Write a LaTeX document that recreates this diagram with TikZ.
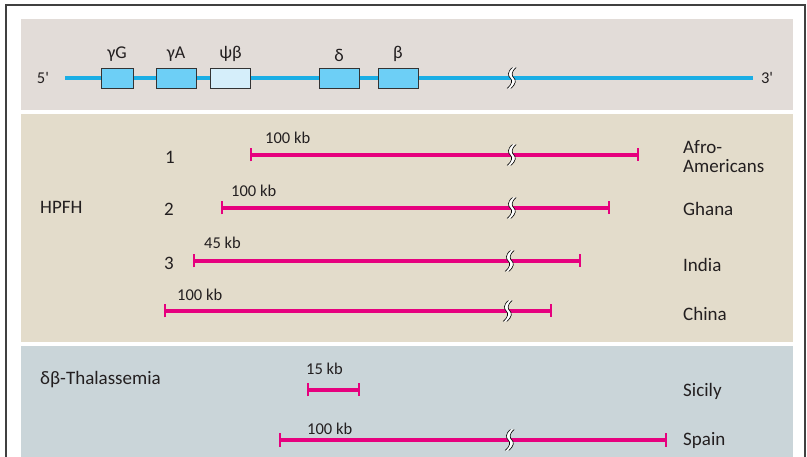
\documentclass[tikz,border=0pt]{standalone}
\usepackage{fontspec}
\setmainfont{Carlito}
\usetikzlibrary{arrows.meta}
\definecolor{genebg}{HTML}{E2DCD8}
\definecolor{hpfhbg}{HTML}{E3DCCB}
\definecolor{thalbg}{HTML}{CAD5D9}
\definecolor{dnablue}{HTML}{1AAEE5}
\definecolor{genefill}{HTML}{6DCFF6}
\definecolor{pseudofill}{HTML}{D5EEFA}
\definecolor{delpink}{HTML}{E6007E}
\definecolor{txt}{HTML}{231F20}
\tikzset{
  frame/.style={draw=black!75, line width=1.5pt},
  dna/.style={line width=4pt, draw=dnablue},
  gene/.style={draw=black!80, fill=genefill, line width=0.8pt, minimum height=20pt, inner sep=0, minimum width=40pt},
  genelabel/.style={font=\fontsize{18}{18}\selectfont, text=txt, inner sep=0, label distance=6pt},
  deletion/.style={line width=3.6pt, draw=delpink, {Bar[width=13pt,line width=1.6pt]}-{Bar[width=13pt,line width=1.6pt]}},
  small/.style={font=\fontsize{16.5}{18}\selectfont, text=txt, inner sep=0},
  big/.style={font=\fontsize{19}{19}\selectfont, text=txt, inner sep=0},
  kb/.style={small, anchor=west},
  place/.style={big, anchor=west, align=left},
  breakline/.style={draw=black, line width=0.6pt},
}
\newcommand{\dnabreak}[1]{%
  \begin{scope}[shift={(#1)}]
    \fill[white] (0.5,-10.5) .. controls (-5,-6) and (-4,-2) .. (-1.8,0) .. controls (0.5,2) and (0.5,6) .. (-5,10.5)
      -- (-1.3,10.5) .. controls (4.2,6) and (4.2,2) .. (1.9,0) .. controls (-0.3,-2) and (-1.3,-6) .. (4.2,-10.5) -- cycle;
    \draw[breakline] (0.5,-10.5) .. controls (-5,-6) and (-4,-2) .. (-1.8,0) .. controls (0.5,2) and (0.5,6) .. (-5,10.5);
    \draw[breakline] (4.2,-10.5) .. controls (-1.3,-6) and (-0.3,-2) .. (1.9,0) .. controls (4.2,2) and (4.2,6) .. (-1.3,10.5);
  \end{scope}}

\begin{document}
\begin{tikzpicture}[x=1pt, y=-1pt]
\useasboundingbox (0,0) rectangle (807,457);
\fill[white] (0,0) rectangle (807,457);
\draw[frame] (6,5) rectangle (805,480);
% panels
\fill[genebg] (21,19) rectangle (793,110);
\fill[hpfhbg] (21,114) rectangle (793,342);
\fill[thalbg] (21,346) rectangle (793,470);

% gene map
\node[small] (five) at (43,78) {5\textquotesingle};
\node[small] (three) at (767,78) {3\textquotesingle};
\coordinate (dnaL) at (65,78);
\coordinate (dnaR) at (753,78);
\draw[dna] (dnaL) -- (dnaR);
\node[gene, minimum width=32pt, label={[genelabel]above:γG}] (gG) at (117,78) {};
\node[gene, label={[genelabel]above:γA}] (gA) at (176,78) {};
\node[gene, fill=pseudofill, label={[genelabel]above:ψβ}] (psib) at (230.5,78) {};
\node[gene, label={[genelabel]above:δ}] (delta) at (339,78) {};
\node[gene, label={[genelabel]above:β}] (beta) at (398,78) {};
\dnabreak{512,78}

% HPFH
\node[big, anchor=west] (hpfh) at (40,207) {HPFH};
\node[big] (n1) at (170,157) {1};
\node[big] (n2) at (169,209) {2};
\node[big] (n3) at (169,263) {3};

\coordinate (a1) at (250,155);
\coordinate (b1) at (639,155);
\draw[deletion] (a1) -- (b1);
\node[kb] (k1) at (265,138) {100 kb};
\dnabreak{512,155}
\node[place] (afro) at (683,157) {Afro-\\Americans};

\coordinate (a2) at (221,208);
\coordinate (b2) at (610,208);
\draw[deletion] (a2) -- (b2);
\node[kb] (k2) at (231,191) {100 kb};
\dnabreak{512,208}
\node[place] (ghana) at (683,209) {Ghana};

\coordinate (a3) at (193,261);
\coordinate (b3) at (581,261);
\draw[deletion] (a3) -- (b3);
\node[kb] (k3) at (204,243) {45 kb};
\dnabreak{510,261}
\node[place] (india) at (683,265) {India};

\coordinate (a4) at (164,311);
\coordinate (b4) at (552,311);
\draw[deletion] (a4) -- (b4);
\node[kb] (k4) at (177,295) {100 kb};
\dnabreak{508,311}
\node[place] (china) at (683,314) {China};

% delta-beta thalassemia
\node[big, anchor=west] (dbthal) at (40,380) {δβ-Thalassemia};

\coordinate (a5) at (307,390);
\coordinate (b5) at (360,390);
\draw[deletion] (a5) -- (b5);
\node[kb] (k5) at (306,369) {15 kb};
\node[place] (sicily) at (683,391) {Sicily};

\coordinate (a6) at (279,440);
\coordinate (b6) at (667,440);
\draw[deletion] (a6) -- (b6);
\node[kb] (k6) at (307,429) {100 kb};
\dnabreak{510,440}
\node[place] (spain) at (683,440) {Spain};
\end{tikzpicture}
\end{document}
